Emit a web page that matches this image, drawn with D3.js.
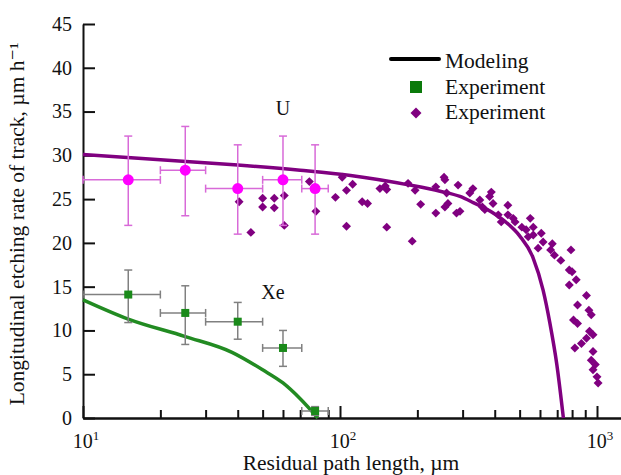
<!DOCTYPE html>
<html>
<head>
<meta charset="utf-8">
<script src="https://cdn.jsdelivr.net/npm/d3@7"></script>
<style>
  body { margin: 0; background: #fff; }
</style>
</head>
<body>
<div class="canvas"></div>
<script>
// U: modelling curve
const uModelX = [10, 20, 40, 70, 110, 187, 245, 293, 330, 400, 445, 500, 564, 617, 656, 697, 740];
const uModelY = [30.1, 29.5, 28.9, 28.3, 27.7, 26.6, 25.9, 25.3, 24.6, 23.3, 22.3, 20.8, 18.3, 14.6, 10.8, 6.2, 0];

// U: averaged experiment with error bars
const uAvgX = [15, 25, 40, 60, 80];
const uAvgY = [27.2, 28.3, 26.2, 27.2, 26.2];
const uAvgXLo = [10, 20, 30, 50, 71];
const uAvgXHi = [20, 30, 50, 71, 90];
const uAvgYLo = [22.0, 23.1, 21.0, 22.0, 21.0];
const uAvgYHi = [32.2, 33.3, 31.2, 32.2, 31.2];

// U: individual tracks
const uScatterX = [40.5, 45, 50, 50, 55.5, 55.5, 60.7, 60.7, 76, 80.6, 96, 102, 106, 106, 112, 122, 128, 143, 150, 152, 152,
  184, 196, 206, 191, 236, 236, 254, 260, 263, 256, 288, 284, 256, 293, 320, 329, 350, 382, 388, 366, 358, 394, 450, 450,
  424, 472, 550, 530, 510, 565, 540, 480, 413, 565, 607, 617, 670, 660, 590, 683, 723, 792, 780, 800, 830, 780, 910, 840,
  930, 950, 810, 840, 935, 965, 910, 870, 820, 965, 950, 985, 965, 1000, 1010];
const uScatterY = [24.7, 21.2, 25.1, 24.1, 25.1, 24.0, 25.4, 22.0, 27.0, 23.6, 25.2, 27.5, 26.0, 21.9, 26.7, 24.7, 24.5, 26.2, 26.5, 26.1, 21.8,
  26.8, 26.0, 24.4, 20.2, 23.4, 26.4, 27.5, 25.7, 24.5, 24.1, 26.6, 23.4, 27.2, 23.6, 25.7, 26.2, 24.9, 25.3, 25.8, 23.8, 24.1, 24.5, 24.3, 23.2,
  22.4, 22.8, 22.8, 21.5, 21.8, 20.9, 20.7, 22.4, 23.2, 21.8, 21.1, 20.1, 19.9, 19.2, 19.4, 18.6, 18.0, 19.2, 16.9, 16.7, 15.8, 15.2, 14.0, 12.9,
  12.3, 11.8, 11.2, 10.8, 9.9, 9.5, 9.1, 8.5, 8.0, 7.6, 6.6, 6.1, 5.5, 4.7, 4.0];

// Xe: modelling curve
const xeModelX = [10, 15, 25, 38, 50, 60, 70, 82];
const xeModelY = [13.5, 11.3, 9.3, 7.5, 5.5, 4.0, 2.2, 0];

// Xe: experiment with error bars
const xeX = [15, 25, 40, 60, 80];
const xeY = [14.1, 12.0, 11.0, 8.0, 0.8];
const xeXLo = [10, 20, 30, 50, 71];
const xeXHi = [20, 30, 50, 71, 90];
const xeYLo = [10.9, 8.4, 9.0, 5.9, 0.3];
const xeYHi = [16.9, 15.1, 13.2, 10.0, 1.3];

const yTicks = [0, 5, 10, 15, 20, 25, 30, 35, 40, 45];
const xMajor = [10, 100, 1000];
const xMinor = [20, 30, 40, 50, 60, 70, 80, 90, 200, 300, 400, 500, 600, 700, 800, 900];

const dims = { width: 621, height: 475 };
const margin = { left: 83, top: 24, right: 0, bottom: 57 };
const purple = "#800080";
const serif = '"Liberation Serif", "DejaVu Serif", serif';

const svg = d3.select(".canvas").append("svg")
  .attr("width", dims.width)
  .attr("height", dims.height)
  .style("font-family", serif);

const x = d3.scaleLog()
  .domain([10, Math.pow(10, 1 + (dims.width - margin.left) / 257)])
  .range([margin.left, dims.width - margin.right]);
const y = d3.scaleLinear()
  .domain([0, 45])
  .range([dims.height - margin.bottom, margin.top]);

const zip = (a, b) => a.map((v, i) => [v, b[i]]);

// axes
const yAxis = svg.append("g")
  .attr("transform", `translate(${margin.left},0)`)
  .call(d3.axisLeft(y).tickValues(yTicks).tickSize(-12).tickSizeOuter(0).tickPadding(11));
yAxis.attr("font-family", null);
yAxis.selectAll("text").attr("font-size", 20).attr("fill", "#111");

const xMinorAxis = svg.append("g")
  .attr("transform", `translate(0,${y(0)})`)
  .call(d3.axisBottom(x).tickValues(xMinor).tickSize(-8).tickSizeOuter(0).tickFormat(() => ""));
const xAxis = svg.append("g")
  .attr("transform", `translate(0,${y(0)})`)
  .call(d3.axisBottom(x).tickValues(xMajor).tickSize(-12).tickSizeOuter(0).tickFormat(() => ""));

svg.selectAll(".domain, .tick line").attr("stroke", "#111").attr("stroke-width", 2);

const xLab = svg.append("g").selectAll("text").data(xMajor).join("text")
  .attr("x", (d) => x(d) + 3)
  .attr("y", y(0) + 30)
  .attr("text-anchor", "middle")
  .attr("font-size", 20);
xLab.append("tspan").text("10");
xLab.append("tspan").attr("font-size", 13).attr("dy", -8).text((d) => Math.log10(d));

svg.append("text")
  .attr("x", 351)
  .attr("y", 470)
  .attr("text-anchor", "middle")
  .attr("font-size", 21.5)
  .text("Residual path length, µm");

svg.append("text")
  .attr("transform", `translate(24,224) rotate(-90)`)
  .attr("text-anchor", "middle")
  .attr("font-size", 21.5)
  .text("Longitudinal etching rate of track, µm h⁻¹");

// annotations
svg.append("text").attr("x", 283).attr("y", 115).attr("text-anchor", "middle").attr("font-size", 20).text("U");
svg.append("text").attr("x", 273).attr("y", 299).attr("text-anchor", "middle").attr("font-size", 20).text("Xe");

const line = d3.line().x((d) => x(d[0])).y((d) => y(d[1])).curve(d3.curveMonotoneX);

// error bars helper
function errorBars(g, xs, ys, xlo, xhi, ylo, yhi, color) {
  const cap = 4;
  xs.forEach((v, i) => {
    const cx = x(v), cy = y(ys[i]);
    const segs = [
      [x(xlo[i]), cy, x(xhi[i]), cy],
      [cx, y(ylo[i]), cx, y(yhi[i])],
      [x(xlo[i]), cy - cap, x(xlo[i]), cy + cap],
      [x(xhi[i]), cy - cap, x(xhi[i]), cy + cap],
      [cx - cap, y(ylo[i]), cx + cap, y(ylo[i])],
      [cx - cap, y(yhi[i]), cx + cap, y(yhi[i])]
    ];
    g.selectAll(null).data(segs).join("line")
      .attr("x1", (d) => d[0]).attr("y1", (d) => d[1])
      .attr("x2", (d) => d[2]).attr("y2", (d) => d[3])
      .attr("stroke", color).attr("stroke-width", 1.5);
  });
}

const diamond = d3.symbol(d3.symbolSquare, 40);

// U scatter
svg.append("g").selectAll("path").data(zip(uScatterX, uScatterY)).join("path")
  .attr("d", diamond)
  .attr("transform", (d) => `translate(${x(d[0])},${y(d[1])}) rotate(45)`)
  .attr("fill", purple);

// U model line
svg.append("path")
  .datum(zip(uModelX, uModelY))
  .attr("d", line)
  .attr("fill", "none")
  .attr("stroke", purple)
  .attr("stroke-width", 3.5);

// U averaged points
const uErr = svg.append("g");
errorBars(uErr, uAvgX, uAvgY, uAvgXLo, uAvgXHi, uAvgYLo, uAvgYHi, "#d86ad8");
uErr.selectAll("circle").data(zip(uAvgX, uAvgY)).join("circle")
  .attr("cx", (d) => x(d[0])).attr("cy", (d) => y(d[1])).attr("r", 5.5)
  .attr("fill", "#ff00ff");

// Xe model line
svg.append("path")
  .datum(zip(xeModelX, xeModelY))
  .attr("d", line)
  .attr("fill", "none")
  .attr("stroke", "#228b22")
  .attr("stroke-width", 3.5);

// Xe points
const xeErr = svg.append("g");
errorBars(xeErr, xeX, xeY, xeXLo, xeXHi, xeYLo, xeYHi, "#808080");
xeErr.selectAll("rect").data(zip(xeX, xeY)).join("rect")
  .attr("x", (d) => x(d[0]) - 4).attr("y", (d) => y(d[1]) - 4)
  .attr("width", 8).attr("height", 8)
  .attr("fill", "#1a8a1a");

// legend
const legend = svg.append("g");
legend.append("line").attr("x1", 391).attr("x2", 439).attr("y1", 59).attr("y2", 59)
  .attr("stroke", "#000").attr("stroke-width", 4).attr("stroke-linecap", "round");
legend.append("rect").attr("x", 410).attr("y", 81).attr("width", 12).attr("height", 12).attr("fill", "#0b7a0b");
legend.append("path").attr("d", d3.symbol(d3.symbolSquare, 60))
  .attr("transform", "translate(416,113) rotate(45)").attr("fill", purple);
legend.selectAll("text").data(["Modeling", "Experiment", "Experiment"]).join("text")
  .attr("x", 445).attr("y", (d, i) => 68 + i * 25.5)
  .attr("font-size", 21.5)
  .text((d) => d);

svg.selectAll("text").style("font-family", serif).attr("fill", "#111");
</script>
</body>
</html>
